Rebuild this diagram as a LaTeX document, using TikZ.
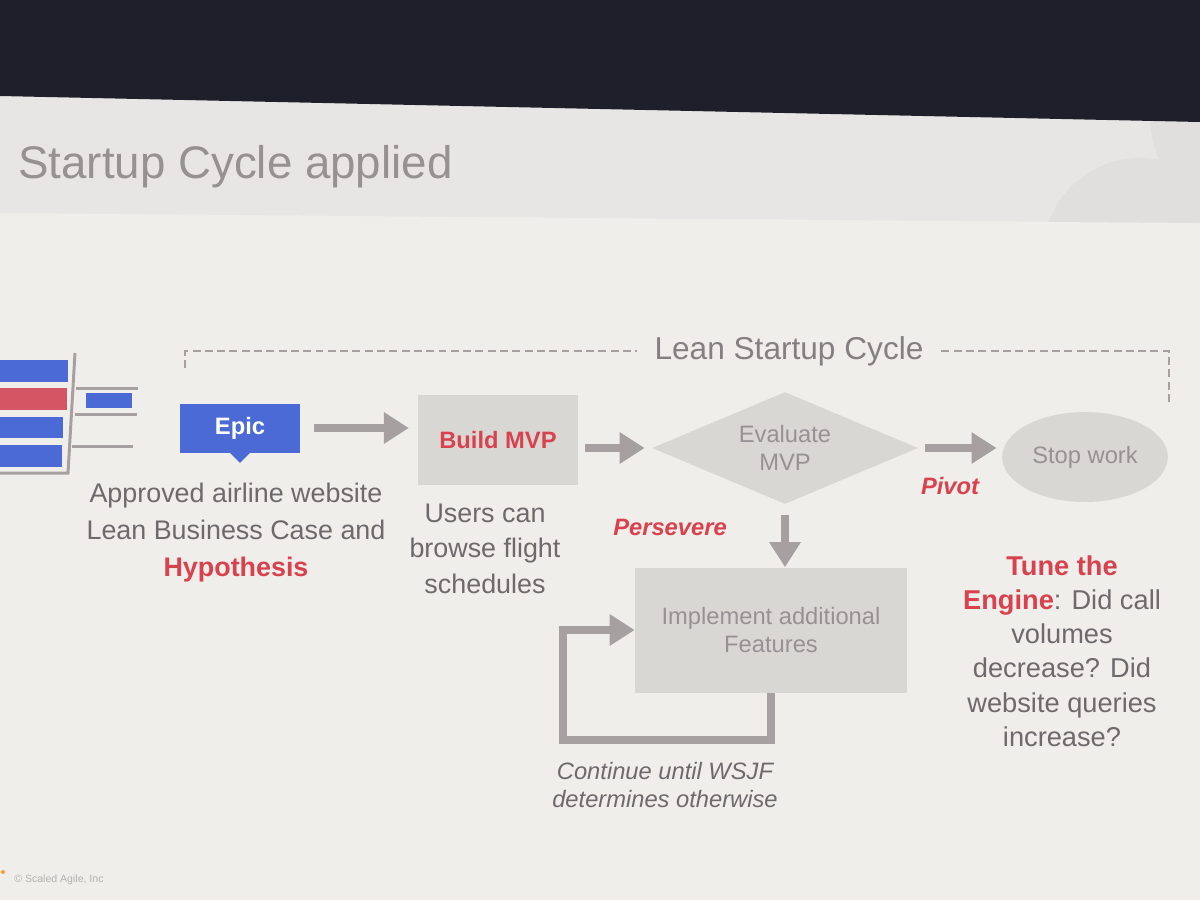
\documentclass[tikz,border=0pt]{standalone}
\usepackage{fontspec}
\setmainfont{Liberation Sans}
\usetikzlibrary{arrows.meta,positioning,shapes.geometric,calc}
\definecolor{roomdark}{RGB}{30,31,42}
\definecolor{slidehead}{RGB}{232,230,229}
\definecolor{slidebody}{RGB}{239,238,234}
\definecolor{slidering}{RGB}{225,223,222}
\definecolor{sablue}{RGB}{76,106,214}
\definecolor{sared}{RGB}{216,66,78}
\definecolor{sapink}{RGB}{212,86,100}
\definecolor{sagray}{RGB}{217,215,212}
\definecolor{saline}{RGB}{166,160,160}
\definecolor{satext}{RGB}{150,146,147}
\definecolor{sabody}{RGB}{110,106,108}
\tikzset{
  titletext/.style={font=\fontsize{26}{30}\selectfont, text=satext, inner sep=0pt},
  cycletext/.style={font=\fontsize{18}{21}\selectfont, text=sabody!85, inner xsep=10pt},
  epicbox/.style={fill=sablue, text=white, font=\fontsize{13.5}{16}\selectfont\bfseries,
                  minimum width=2.4cm, minimum height=0.98cm},
  flowbox/.style={fill=sagray, font=\fontsize{13.5}{16}\selectfont, text=satext,
                  align=center, inner sep=0pt},
  evalnode/.style={diamond, aspect=2.4, fill=sagray, font=\fontsize{13.5}{15.5}\selectfont,
                   text=satext, align=center, inner sep=0pt,
                   minimum width=5.32cm, minimum height=2.24cm},
  stopnode/.style={ellipse, fill=sagray, font=\fontsize{13.5}{16}\selectfont, text=satext,
                   minimum width=3.2cm, minimum height=1.8cm},
  flowlabel/.style={font=\fontsize{13.5}{16}\selectfont\bfseries\itshape, text=sared},
  notetext/.style={font=\fontsize{15.3}{21}\selectfont, text=sabody, align=center,
                   inner sep=0pt, anchor=north},
  loopnote/.style={font=\fontsize{13.5}{16}\selectfont\itshape, text=sabody, align=center,
                   inner sep=0pt, anchor=north},
  copytext/.style={font=\fontsize{6}{7}\selectfont, text=slidering!80!black, inner sep=0pt},
  bigarrow/.style={draw=saline, line width=5pt, -{Triangle[length=0.5cm, width=0.6cm]}},
  cycleline/.style={draw=saline, line width=1.2pt, dash pattern=on 4.5pt off 2.5pt},
  backline/.style={draw=saline, line width=1.7pt},
}

\begin{document}
\begin{tikzpicture}[x=0.02cm, y=-0.02cm]
\useasboundingbox (0,0) rectangle (1200,900);
\clip (0,0) rectangle (1200,900);

% Room and slide
\fill[slidebody] (0,0) rectangle (1200,900);
\fill[slidehead] (0,96) -- (1200,122) -- (1200,223) -- (0,213) -- cycle;
\begin{scope}
  \clip (0,96) -- (1200,122) -- (1200,223) -- (0,213) -- cycle;
  \fill[slidering] (1265,115) circle (115);
  \fill[slidering] (1140,255) circle (97);
\end{scope}
\fill[roomdark] (0,0) -- (1200,0) -- (1200,122) -- (0,96) -- cycle;

\node[titletext, anchor=base west] (title) at (18,178) {Startup Cycle applied};

% Backlog (cut at the left edge)
\fill[sablue] (0,360) rectangle (68,382);
\fill[sapink] (0,388) rectangle (67,410);
\fill[sablue] (0,417) rectangle (63,438);
\fill[sablue] (0,445) rectangle (62,467);
\draw[backline] (75,353) -- (68,473) -- (0,473);
\draw[backline] (76,388) -- (138,388);
\draw[backline] (75,414) -- (137,414);
\draw[backline] (72,446) -- (133,446);
\fill[sablue] (86,393) rectangle (132,408);

% Lean Startup Cycle bracket
\node[cycletext] (cycle) at (789,351) {Lean Startup Cycle};
\coordinate (cycleL) at (185,368);
\coordinate (cycleR) at (1169,406);
\draw[cycleline] (cycleL) |- (cycle.west);
\draw[cycleline] (cycle.east) -| (cycleR);

% Flow
\node[epicbox] (epic) at (240,428) {Epic};
\fill[sablue] ([xshift=-0.2cm]epic.south) -- ([xshift=0.2cm]epic.south)
  -- ([yshift=-0.2cm]epic.south) -- cycle;
\node[flowbox, minimum width=3.2cm, minimum height=1.8cm] (build) at (498,440)
  {\textcolor{sared}{\bfseries Build MVP}};
\node[evalnode] (eval) at (785,448) {Evaluate\\MVP};
\node[stopnode] (stop) at (1085,457) {Stop work};
\node[flowbox, minimum width=5.44cm, minimum height=2.5cm] (impl) at (771,630)
  {Implement additional\\Features};

\draw[bigarrow, shorten <=8pt, shorten >=5pt] (epic.east) -- (epic.east -| build.west);
\draw[bigarrow, shorten <=4pt, shorten >=4pt] (build.east |- eval.west) -- (eval.west);
\draw[bigarrow, shorten <=4pt, shorten >=3pt] (eval.east) -- (eval.east -| stop.west);
\draw[bigarrow, shorten <=6pt] (eval.south) -- (eval.south |- impl.north);
\coordinate (loopcorner) at (563,740);
\draw[bigarrow] (impl.south) |- (loopcorner) |- (impl.west);

\node[flowlabel] (pivot) at (950,486) {Pivot};
\node[flowlabel] (persevere) at (670,527) {Persevere};

% Notes
\node[notetext] (epicnote) at (236,483)
  {Approved airline website\\Lean Business Case and\\{\color{sared}\bfseries Hypothesis}};
\node[notetext, font=\fontsize{15.3}{20}\selectfont] (mvpnote) at (485,504)
  {Users can\\browse flight\\schedules};
\node[notetext, font=\fontsize{15.5}{19.5}\selectfont] (tunenote) at (1062,555)
  {{\color{sared}\bfseries Tune the}\\{\color{sared}\bfseries Engine}: Did call\\volumes\\decrease? Did\\website queries\\increase?};
\node[loopnote] (loopnote) at (665,762) {Continue until WSJF\\determines otherwise};

% Footer
\fill[orange!80] (3,872) circle (2);
\node[copytext, anchor=west] (copy) at (14,880) {© Scaled Agile, Inc};
\end{tikzpicture}
\end{document}
